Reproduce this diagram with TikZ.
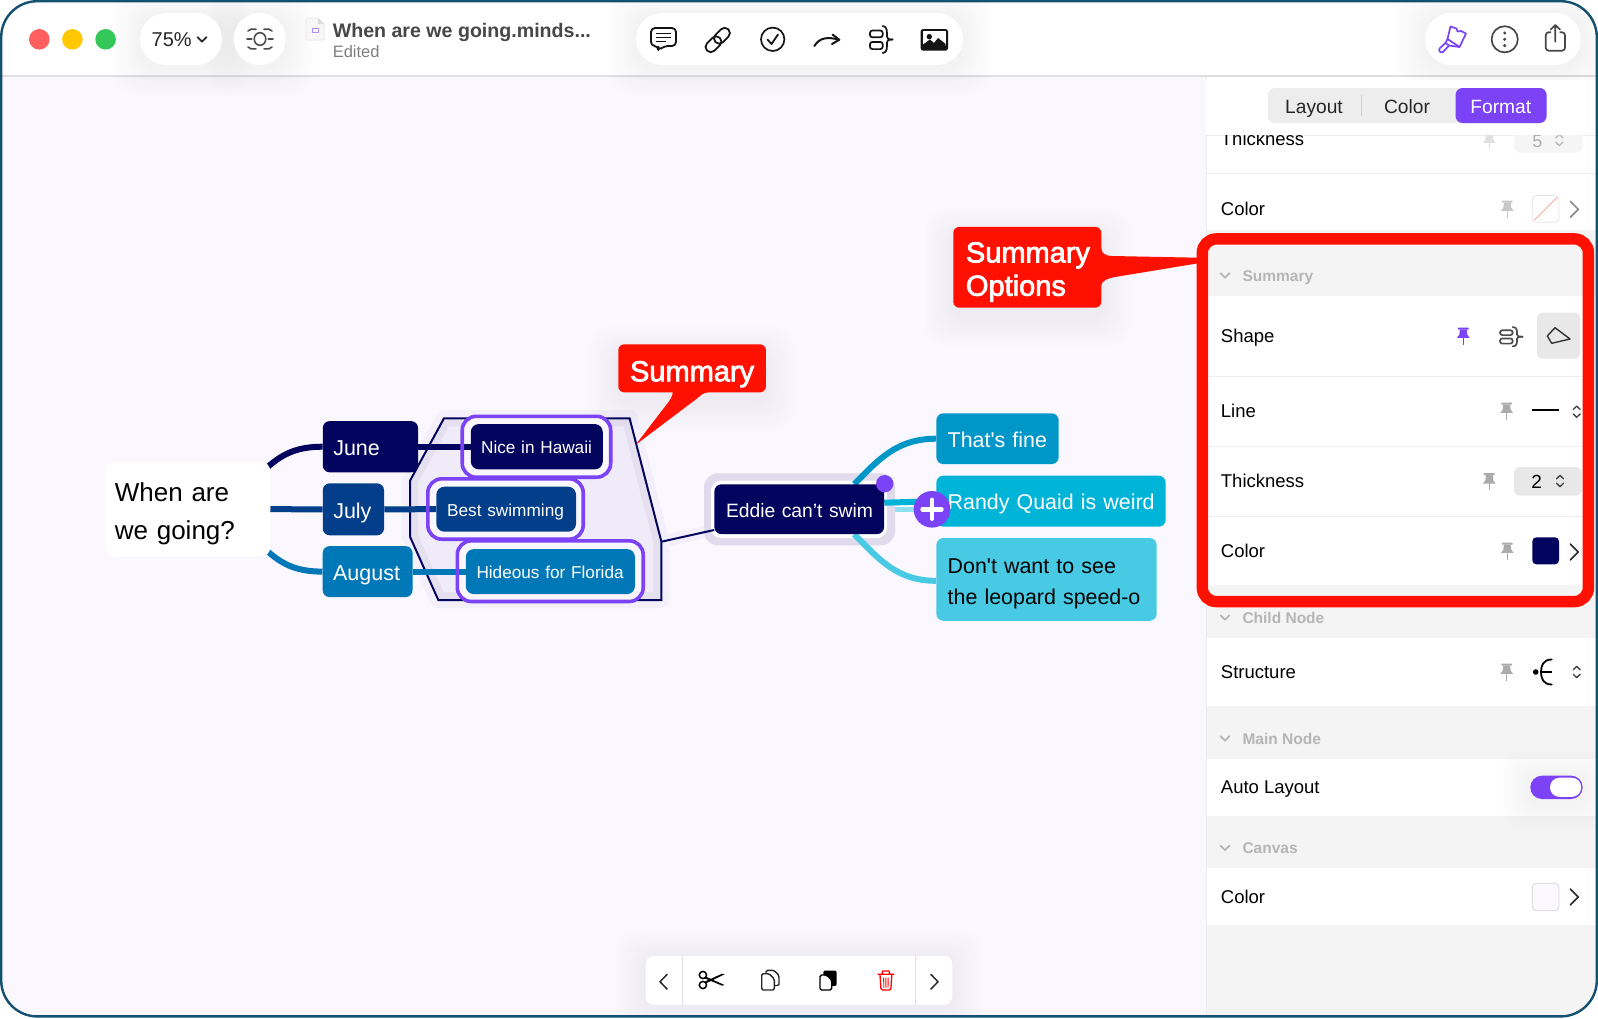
\documentclass[tikz,border=0pt]{standalone}
\usepackage{fontspec}
\setmainfont{Liberation Sans}
\newfontfamily\semib[FakeBold=2.5]{Liberation Sans}
\newfontfamily\plainf{Liberation Sans}
\usetikzlibrary{calc,arrows.meta}
\pgfdeclarelayer{base}\pgfdeclarelayer{links}
\pgfsetlayers{base,links,main}
\definecolor{cnavy}{HTML}{03045E}
\definecolor{cjuly}{HTML}{023E8A}
\definecolor{caug}{HTML}{0077B6}
\definecolor{cfine}{HTML}{0096C7}
\definecolor{crandy}{HTML}{00B4D8}
\definecolor{cdont}{HTML}{48CAE4}
\definecolor{clight}{HTML}{90E0EF}
\definecolor{cpurple}{HTML}{7B42F6}
\definecolor{cred}{HTML}{FF1000}
\definecolor{ccanvas}{HTML}{FBF7FE}
\definecolor{cgrey}{HTML}{F4F4F4}
\definecolor{cpin}{HTML}{ABABAB}
\definecolor{chead}{HTML}{B5B5B5}
\definecolor{csep}{HTML}{EEEEEE}
\definecolor{cicon}{HTML}{151515}
\definecolor{polyin}{HTML}{EFEBF8}
\definecolor{polyband}{HTML}{E5E0F0}
\definecolor{polyhalo}{HTML}{F3EFFB}
\definecolor{eddiehalo}{HTML}{E0DAED}
\definecolor{cframe}{HTML}{14506F}
\newcommand\fsz[2]{\fontsize{#1}{#2}\selectfont}
\newcommand\softshadow[6]{%
  \foreach \k in {1,...,12}{\fill[black,opacity=0.0055,rounded corners=#6]
    ({#1-\k*2.4},{#2-\k*2.4+#5}) rectangle ({#3+\k*2.4},{#4+\k*2.4+#5});}}
\newcommand\pinicon[3]{%
  \begin{scope}[shift={(#1,#2)}]
  \fill[#3,rounded corners=.6pt] (-5.4,-8.5) rectangle (5.4,-6.3);
  \fill[#3] (-3.4,-6.5) -- (3.4,-6.5) -- (3.9,-1.5) -- (6.3,1.8) -- (-6.3,1.8) -- (-3.9,-1.5) -- cycle;
  \draw[#3,line width=1.5pt] (0,1.5) -- (0,8.5);
  \end{scope}}
\newcommand\stepper[3]{%
  \begin{scope}[shift={(#1,#2)}]
  \draw[#3,line width=1.3pt,line cap=round,line join=round] (-3.5,-2.2) -- (0,-5.6) -- (3.5,-2.2);
  \draw[#3,line width=1.3pt,line cap=round,line join=round] (-3.5,2.2) -- (0,5.6) -- (3.5,2.2);
  \end{scope}}
\newcommand\chevdown[3]{%
  \draw[#3,line width=1.7pt,line cap=round,line join=round] ({#1-4.5},{#2-2.4}) -- (#1,{#2+2.2}) -- ({#1+4.5},{#2-2.4});}
\newcommand\chevright[3]{%
  \draw[#3,line width=1.6pt,line cap=round,line join=round] ({#1-4},{#2-8}) -- ({#1+4},#2) -- ({#1-4},{#2+8});}
\newcommand\sumicon[4]{%
  \begin{scope}[shift={(#1,#2)},yscale=#4]
  \draw[#3,line width=1.7pt,rounded corners=2.4pt] (-11.5,-9) rectangle (1.2,-2.2);
  \draw[#3,line width=1.7pt,rounded corners=2.4pt] (-11.5,2.4) rectangle (1.2,9.6);
  \draw[#3,line width=1.7pt,line cap=round] (1.2,-13.5) .. controls (6,-13.5) and (5.5,-7) .. (5.5,-3) .. controls (5.5,-1) and (6.5,0) .. (11,0);
  \draw[#3,line width=1.7pt,line cap=round] (1.2,13.5) .. controls (6,13.5) and (5.5,7) .. (5.5,3) .. controls (5.5,1) and (6.5,0) .. (11,0);
  \end{scope}}
\tikzset{
  mapbox/.style={rectangle,rounded corners=7pt,inner ysep=0pt,inner xsep=#1,align=left,text=white},
  oneline/.style={text height=#1,text depth=0pt},
  rowlabel/.style={anchor=west,inner sep=0pt,font=\fsz{18.5}{22},text=black,text height=13.3pt,text depth=0pt},
  headlabel/.style={anchor=west,inner sep=0pt,font=\bfseries\fsz{15.5}{18},text=chead,text height=11.1pt,text depth=0pt},
  tablabel/.style={inner sep=0pt,font=\fsz{19.2}{23},text height=13.7pt,text depth=0pt},
  link/.style={line width=6pt},
  ringback/.style={fill=ccanvas,rounded corners=14pt},
  ring/.style={draw=cpurple,line width=3.6pt,rounded corners=14pt},
  callout/.style={fill=cred,draw=none},
  iconline/.style={draw=cicon,line width=1.8pt,line cap=round,line join=round},
}
\begin{document}
\begin{tikzpicture}[x=1pt,y=-1pt]
\useasboundingbox (0,0) rectangle (1598,1018);
\begin{pgfonlayer}{base}
% window base
\fill[white] (0,0) rectangle (1598,1018);
\fill[ccanvas] (0,76) rectangle (1206,1018);
\fill[white] (1206,76) rectangle (1598,1018);
\fill[cgrey] (1206,230) rectangle (1598,1018);
% panel rows
\fill[white] (1206,295.7) rectangle (1598,585);
\fill[white] (1206,638) rectangle (1598,706);
\fill[white] (1206,759) rectangle (1598,815.7);
\fill[white] (1206,868) rectangle (1598,925);
\draw[csep,line width=1pt] (1206,76) -- (1206,1018);
\draw[csep,line width=1pt] (1206,135) -- (1598,135);
\draw[csep,line width=1pt] (1206,173.3) -- (1598,173.3);
\foreach \yy in {376,446,516}{\draw[csep,line width=1pt] (1208,\yy) -- (1583,\yy);}
\draw[black!12,line width=1.2pt] (0,76) -- (1598,76);
% summary polygon
\coordinate (pa) at (444,418.3);
\coordinate (pb) at (629.6,418.3);
\coordinate (pc) at (661.4,541.7);
\coordinate (pd) at (661.4,600);
\coordinate (pe) at (438.3,600);
\coordinate (pf) at (410,536.7);
\coordinate (pg) at (410,480.7);
\fill[fill=polyin] (pa)--(pb)--(pc)--(pd)--(pe)--(pf)--(pg)--cycle;
\draw[color=polyhalo,line width=16pt,line join=round] (pa)--(pb)--(pc)--(pd)--(pe)--(pf)--(pg)--cycle;
\begin{scope}
\clip (pa)--(pb)--(pc)--(pd)--(pe)--(pf)--(pg)--cycle;
\draw[color=polyband,line width=16pt,line join=round] (pa)--(pb)--(pc)--(pd)--(pe)--(pf)--(pg)--cycle;
\end{scope}
\end{pgfonlayer}

% map nodes
\node[mapbox=0pt,fill=white,text=black,rounded corners=9pt,minimum height=95pt,text width=165.5pt,font=\fsz{26}{38.6},inner xsep=0pt] (main) at (187.3,509.2) {\hspace*{10.4pt}\rule{0pt}{28pt}When are\\\hspace*{10.4pt}we going?};
\node[mapbox=10.5pt,fill=cnavy,text width=74.3pt,minimum height=51.3pt,font=\fsz{21.5}{26},oneline=17.4pt] (june) at (370.4,446.7) {\mbox{June}};
\node[mapbox=10.5pt,fill=cjuly,text width=40.3pt,minimum height=52pt,font=\fsz{21.5}{26},oneline=17.4pt] (july) at (353.4,509.3) {\mbox{July}};
\node[mapbox=10.5pt,fill=caug,text width=68.9pt,minimum height=51pt,font=\fsz{21.5}{26},oneline=17.4pt] (august) at (367.6,571.6) {\mbox{August}};

\node[mapbox=10.3pt,fill=cnavy,text width=111.4pt,minimum height=45.3pt,font=\fsz{17.2}{21},oneline=14.4pt,rounded corners=8pt] (nice) at (536.8,446.7) {\mbox{Nice in Hawaii}};
\node[mapbox=10.7pt,fill=cjuly,text width=118.3pt,minimum height=45pt,font=\fsz{17.25}{21},oneline=14.4pt,rounded corners=8pt] (best) at (506.2,509.2) {\mbox{Best swimming}};
\node[mapbox=10.7pt,fill=caug,text width=147.8pt,minimum height=45pt,font=\fsz{17.2}{21},oneline=14.4pt,rounded corners=8pt] (hideous) at (550.4,571.6) {\mbox{Hideous for Florida}};

\node[mapbox=11.7pt,fill=cnavy,text width=146.3pt,minimum height=49.7pt,font=\fsz{19.3}{24},oneline=16.8pt] (eddie) at (799.2,509.2) {\mbox{Eddie can’t swim}};
\node[mapbox=11.4pt,fill=cfine,text width=99.6pt,minimum height=50.7pt,font=\plainf\fsz{21.4}{26},oneline=17.3pt] (fine) at (997.5,438.7) {\mbox{That's fine}};
\node[mapbox=11.4pt,fill=crandy,text width=206.6pt,minimum height=51pt,font=\fsz{21.4}{26},oneline=17.3pt] (randy) at (1051,501.2) {\mbox{Randy Quaid is weird}};
\node[mapbox=11.4pt,fill=cdont,text=black,text width=197.6pt,minimum height=82.7pt,font=\plainf\fsz{21.4}{31.7}] (dont) at (1046.5,579.4) {\rule{0pt}{23.6pt}Don't want to see\\the leopard speed-o};

\begin{pgfonlayer}{base}
% Eddie halo
\draw[color=polyhalo,line width=12pt] (pc) -- (eddie.west |- 0,530);
\draw[color=clight,line width=5pt] (eddie.east) -- ([xshift=-1pt,yshift=-8pt]randy.west);
\fill[color=eddiehalo,rounded corners=14pt] (704,473.3) rectangle (895,545.3);
\fill[white,rounded corners=10pt] (711,480.5) rectangle (887,538);
\end{pgfonlayer}

\begin{pgfonlayer}{links}
\draw[cnavy,line width=2pt,line join=miter] (pa)--(pb)--(pc)--(pd)--(pe)--(pf)--(pg)--cycle;
\draw[cnavy,line width=2pt] (pc) -- ([yshift=-20.8pt]eddie.east -| eddie.west);
\fill[ringback] (462.2,416.3) rectangle (610.7,477.2);
\fill[ringback] (427.8,478.8) rectangle (583.2,539.2);
\fill[ringback] (457.3,540.8) rectangle (643.2,601.5);
\draw[link,cnavy] ([shift={(-2,5)}]main.north east) .. controls +(15,-13) and +(-25,0) .. (june.west);
\draw[link,cjuly] (main.east) -- (july.west);
\draw[link,caug] ([shift={(-2,-5)}]main.south east) .. controls +(15,13) and +(-25,0) .. (august.west);
\draw[link,cnavy] (june.east) -- (nice.west);
\draw[link,cjuly] (july.east) -- (best.west);
\draw[link,caug] (august.east) -- (hideous.west);
\draw[link,cfine] ([xshift=55pt]eddie.north) .. controls +(24,-24) and +(-40,0) .. (fine.west) ;
\draw[link,crandy] ([yshift=6.5pt]eddie.east) -- (randy.west);
\draw[link,cdont] ([xshift=55pt]eddie.south) .. controls +(24,24) and +(-40,0) .. ([yshift=-1.4pt]dont.west);
\draw[ring] (462.2,416.3) rectangle (610.7,477.2);
\draw[ring] (427.8,478.8) rectangle (583.2,539.2);
\draw[ring] (457.3,540.8) rectangle (643.2,601.5);
\end{pgfonlayer}

% callouts
\begin{pgfonlayer}{base}
\softshadow{618.3}{344.3}{766}{392.3}{10}{20pt}
\softshadow{953.3}{227}{1101.3}{307.7}{10}{20pt}
\end{pgfonlayer}
\fill[callout] (672.7,390) -- (672.7,392.3) .. controls (672.5,397) and (670,400) .. (667,404) -- (635.7,444.7) -- (697,398.5) .. controls (701,395) and (704,392.3) .. (708.3,392.3) -- (708.3,390) -- cycle;
\node[fill=cred,rounded corners=6pt,inner sep=0pt,minimum width=147.7pt,minimum height=48pt,text=white,font=\semib\fsz{29}{34},text height=26pt,text depth=0pt] (sumcall) at (692.1,368.3) {Summary};
\fill[callout] (1099,248.3) -- (1101.3,248.3) .. controls (1102,253) and (1104,255.5) .. (1112,256) -- (1198,257.7) -- (1198,263.3) -- (1118,276.5) .. controls (1107,278) and (1102,281) .. (1101.3,285) -- (1099,285) -- cycle;
\node[fill=cred,rounded corners=6pt,inner xsep=12.7pt,inner ysep=0pt,minimum height=80.7pt,text width=122.7pt,align=left,text=white,font=\semib\fsz{29}{33.3}] (optcall) at (1027.3,267.3) {\rule{0pt}{29.6pt}Summary\\Options};

% eddie selection handles
\fill[cpurple] (884.7,483.7) circle (8.7);
\fill[cpurple] (932,509.3) circle (18.3);
\draw[white,line width=4.4pt,line cap=round] (922.5,509.3) -- (941.5,509.3);
\draw[white,line width=4.4pt,line cap=round] (932,499.8) -- (932,518.8);

% ---- top bar
\softshadow{140}{13}{222}{65}{2}{26pt}
\softshadow{233.7}{13}{285.7}{65}{2}{26pt}
\softshadow{636}{13}{963}{65}{2}{26pt}
\softshadow{1425}{13}{1581}{65}{2}{26pt}
\fill[color=white,rounded corners=26pt] (140,13) rectangle (222,65);
\fill[color=white,rounded corners=26pt] (233.7,13) rectangle (285.7,65);
\fill[color=white,rounded corners=26pt] (636,13) rectangle (963,65);
\fill[color=white,rounded corners=26pt] (1425,13) rectangle (1581,65);
\fill[color=white] (1206,80) rectangle (1598,135);
\fill[color=white!93!black,rounded corners=7pt] (1268,88) rectangle (1546.6,123);
\fill[cpurple,rounded corners=7pt] (1455.5,88) rectangle (1546.6,123);
\draw[black!18,line width=.8pt] (1361.5,95) -- (1361.5,116);
\node[tablabel,text=black!85] (tabl) at (1314,107) {Layout};
\node[tablabel,text=black!85] (tabc) at (1407,107) {Color};
\node[tablabel,text=white] (tabf) at (1500.8,107) {Format};

\definecolor{tlred}{HTML}{FF5F5F}\definecolor{tlyel}{HTML}{FFC800}\definecolor{tlgrn}{HTML}{34C759}
\fill[color=tlred] (39.3,39.3) circle (10.3);
\fill[color=tlyel] (72.4,39.3) circle (10.3);
\fill[color=tlgrn] (105.6,39.3) circle (10.3);
\node[anchor=west,inner sep=0pt,font=\fsz{20}{24},text=black!85] (zoomt) at (151.5,40) {75\%};
\chevdown{202}{39.5}{black!85}

\begin{scope}[shift={(260,39)}]
\draw[black!70,line width=1.6pt] (0,0) ellipse (5.8 and 6.3);
\draw[black!70,line width=1.6pt,line cap=round] (-13,0) -- (-8.3,0) (8.3,0) -- (13,0);
\draw[black!70,line width=1.6pt,line cap=round] (-12,-8) -- (-9,-9.8) -- (-4,-9.8) (12,-8) -- (9,-9.8) -- (4,-9.8);
\draw[black!70,line width=1.6pt,line cap=round] (-12,8) -- (-9,9.8) -- (-4,9.8) (12,8) -- (9,9.8) -- (4,9.8);
\end{scope}

\draw[black!10,fill=black!3,line width=.7pt,rounded corners=1pt] (306,18) -- (318,18) -- (324,24) -- (324,40) -- (306,40) -- cycle;
\fill[color=black!14] (318,18) -- (324,24) -- (318,24) -- cycle;
\draw[cpurple!60,line width=.9pt] (312,28) rectangle (318,32);
\node[anchor=west,inner sep=0pt,font=\bfseries\fsz{19.6}{24},text=black!72,text height=14.1pt,text depth=0pt] (title) at (332.6,30) {When are we going.minds...};
\node[anchor=west,inner sep=0pt,font=\fsz{16.5}{20},text=black!50] (edited) at (332.6,51.5) {Edited};

% comment icon
\draw[iconline,rounded corners=4pt] (651,28) -- (676,28) -- (676,46) -- (664,46) -- (658.3,50.7) -- (658.3,46) -- (651,46) -- cycle;
\draw[cicon,line width=1.5pt] (656,33.5) -- (671,33.5) (656,37.5) -- (671,37.5) (656,41.5) -- (666,41.5);
% link icon
\begin{scope}[shift={(717.7,40)},rotate=45]
\draw[iconline,rounded corners=5pt] (-15,-5.2) rectangle (3,5.2);
\draw[iconline,rounded corners=5pt] (-3,-5.2) rectangle (15,5.2);
\end{scope}
% check icon
\draw[cicon,line width=1.7pt] (772.7,39.3) circle (11.7);
\draw[iconline] (767.5,39.5) -- (771.5,44) -- (778,34.5);
% arrow icon
\draw[iconline,line width=2pt] (814.3,46) .. controls (820,37) and (828,37) .. (838.5,39.5);
\draw[iconline,line width=2pt] (832.5,34.5) -- (839.3,39.7) -- (832,44);
% summary icon
\sumicon{881.5}{39.5}{cicon}{1}
% image icon
\fill[cicon,rounded corners=2.5pt] (920.7,29) rectangle (948,50.7);
\fill[white] (923,31.3) rectangle (945.7,46);
\fill[cicon] (929.3,36.7) circle (2.7);
\fill[cicon] (923,47) -- (923,44.5) -- (930,39.5) -- (934,43) -- (938,38) -- (945.7,44) -- (945.7,47) -- cycle;

% right pill icons
\begin{scope}[cpurple,line width=1.7pt,line join=round,line cap=round]
\draw (1450.5,26.5) -- (1456.5,28.5) -- (1457.5,31.5) -- (1461,31) -- (1466,33.5) -- (1459.5,47) -- (1447.5,39) -- cycle;
\draw (1447.5,39) -- (1445.5,43) -- (1449,45.5) -- (1459.5,47);
\draw (1445.5,43) -- (1440,48) .. controls (1438,50) and (1440,53.5) .. (1443,52) -- (1449,45.5);
\end{scope}
\draw[black!72,line width=1.7pt] (1504.7,39.3) circle (13.1);
\fill[black!72] (1504.7,33) circle (1.7) (1504.7,39.3) circle (1.7) (1504.7,45.6) circle (1.7);
\draw[black!72,line width=1.7pt,rounded corners=3pt] (1551,32.3) -- (1545.7,32.3) -- (1545.7,50.7) -- (1565,50.7) -- (1565,32.3) -- (1559.7,32.3);
\draw[black!72,line width=1.7pt,line cap=round,line join=round] (1555.3,41.7) -- (1555.3,25.5) (1550.7,29.5) -- (1555.3,25) -- (1560,29.5);

% ---- panel contents
\begin{scope}
\clip (1207,135.6) rectangle (1598,175);
\node[rowlabel] (rthick0) at (1220.7,139) {Thickness};
\pinicon{1489.3}{141}{black!12}
\fill[color=black!4,rounded corners=6pt] (1514,120) rectangle (1582.3,152.7);
\node[inner sep=0pt,font=\fsz{18}{22},text=black!32] (five) at (1537.3,141) {5};
\stepper{1559.3}{140}{black!28}
\end{scope}
\node[rowlabel] (rcolor0) at (1220.7,209.3) {Color};
\pinicon{1507.3}{209}{black!22}
\draw[color=black!10,fill=white,rounded corners=4pt,line width=.8pt] (1532.3,195.5) rectangle (1559,222.3);
\draw[color=red!35!white,line width=1pt] (1534.5,220) -- (1557,197.5);
\chevright{1574.3}{209.3}{black!45}

\chevdown{1225}{275.5}{chead}
\node[headlabel] (hsum) at (1242.3,275.5) {Summary};
\node[rowlabel] (rshape) at (1220.7,336) {Shape};
\pinicon{1463.3}{336}{cpurple}
\sumicon{1511.5}{336.7}{black!70}{.72}
\fill[color=black!9,rounded corners=5pt] (1537,312.7) rectangle (1580,358.7);
\draw[black!80,line width=1.4pt,line join=round] (1547.3,336) -- (1555,327.7) -- (1570,339) -- (1551.7,343.3) -- cycle;
\node[rowlabel] (rline) at (1220.7,411) {Line};
\pinicon{1506.7}{411}{cpin}
\draw[black,line width=1.8pt] (1532.3,410) -- (1559,410);
\stepper{1576.7}{411.7}{black!75}
\node[rowlabel] (rthick) at (1220.7,481) {Thickness};
\pinicon{1489.3}{481.7}{cpin}
\fill[color=black!9,rounded corners=6pt] (1514,467) rectangle (1581.7,495.7);
\node[inner sep=0pt,font=\fsz{19}{23},text=black] (two) at (1536.7,482) {2};
\stepper{1560}{481}{black!75}
\node[rowlabel] (rcolor) at (1220.7,551) {Color};
\pinicon{1507.3}{551}{cpin}
\fill[cnavy,rounded corners=4pt] (1532.3,537.3) rectangle (1559,564.3);
\chevright{1574.3}{552}{black!85}

\chevdown{1225}{617.5}{chead}
\node[headlabel] (hchild) at (1242.3,617.5) {Child Node};
\node[rowlabel] (rstruct) at (1220.7,672) {Structure};
\pinicon{1506.7}{672}{cpin}
\fill[black] (1535.7,672) circle (2.8);
\draw[black,line width=1.8pt,line cap=round] (1551.7,659.5) .. controls (1543,659.5) and (1541,666) .. (1541,672) .. controls (1541,678) and (1543,684.5) .. (1551.7,684.5);
\draw[black,line width=1.8pt] (1541,672) -- (1551.7,672);
\stepper{1576.7}{672}{black!75}

\chevdown{1225}{738.5}{chead}
\node[headlabel] (hmain) at (1242.3,738.5) {Main Node};
\node[rowlabel] (rauto) at (1220.7,787.3) {Auto Layout};
\softshadow{1530.3}{775.7}{1582.7}{799}{2}{11pt}
\fill[cpurple,rounded corners=11.6pt] (1530.3,775.7) rectangle (1582.7,799);
\fill[white,rounded corners=9.5pt] (1550,777.7) rectangle (1581.2,796.9);

\chevdown{1225}{848}{chead}
\node[headlabel] (hcanvas) at (1242.3,848) {Canvas};
\node[rowlabel] (rcolor2) at (1220.7,896.7) {Color};
\draw[color=black!16,fill=ccanvas,rounded corners=4pt,line width=.8pt] (1532.3,883.3) rectangle (1559,910.7);
\chevright{1574.3}{897}{black!85}

% red frame
\draw[cred,line width=11.4pt,rounded corners=14pt] (1202.3,238.9) rectangle (1588.4,601.6);

% ---- bottom toolbar
\softshadow{645.7}{956}{952.3}{1004.7}{3}{16pt}
\fill[color=white,rounded corners=8pt] (645.7,956) rectangle (952.3,1004.7);
\draw[black!12,line width=.8pt] (682.7,956) -- (682.7,1004.7) (915.7,956) -- (915.7,1004.7);
\draw[black!85,line width=1.5pt,line cap=round,line join=round] (667,974.5) -- (660,981.7) -- (667,989);
\draw[black!85,line width=1.5pt,line cap=round,line join=round] (931,974.5) -- (938,981.7) -- (931,989);
% scissors
\draw[black,line width=1.5pt] (702.9,975) circle (3.6) (702.9,985) circle (3.6);
\fill[black] (705.8,976.6) -- (724.6,985) -- (722,985.6) -- (704.8,978.4) -- cycle;
\fill[black] (705.8,983.4) -- (724.6,974.3) -- (722,973.7) -- (704.8,981.6) -- cycle;
% copy
\draw[black!85,line width=1.4pt,line join=round,rounded corners=1.5pt] (766,975) -- (766,970.3) -- (774,970.3) -- (779,975.5) -- (779,985.5) -- (774.3,985.5);
\draw[black!85,fill=white,line width=1.4pt,line join=round,rounded corners=1.5pt] (761.7,973.7) -- (769,973.7) -- (774.3,979) -- (774.3,990) -- (761.7,990) -- cycle;
% paste
\fill[black,rounded corners=2pt] (823.3,970.5) rectangle (836.7,986);
\draw[black,fill=white,line width=1.4pt,line join=round,rounded corners=1.5pt] (820,975) -- (826.5,975) -- (831.7,980) -- (831.7,990) -- (820,990) -- cycle;
% trash
\draw[red,line width=1.3pt,line cap=round,line join=round] (877.9,974.3) -- (893.9,974.3) (882,974) -- (882.7,971) -- (889,971) -- (889.8,974);
\draw[red,line width=1.3pt,line join=round,rounded corners=1.5pt] (880,974.8) -- (881,990) -- (890.8,990) -- (891.8,974.8);
\draw[red,line width=.9pt] (883.6,977.5) -- (883.8,987.5) (885.9,977.5) -- (885.9,987.5) (888.2,977.5) -- (888,987.5);

% window mask + border
\fill[white,even odd rule] (-1,-1) rectangle (1599,1019) [rounded corners=36pt] (1.2,1.2) rectangle (1596.8,1016.4);
\draw[color=cframe,line width=2.4pt,rounded corners=36pt] (1.2,1.2) rectangle (1596.8,1016.4);
\end{tikzpicture}
\end{document}
